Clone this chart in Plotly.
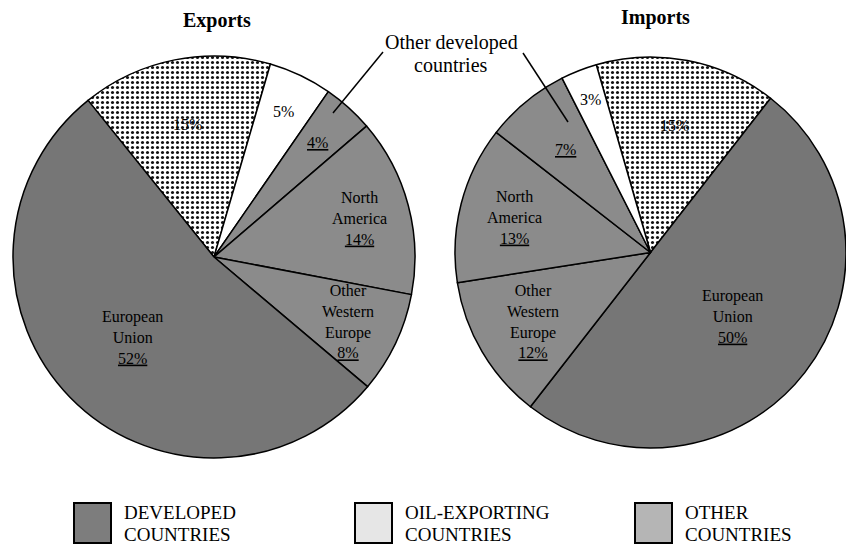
import math
import plotly.graph_objects as go

W, H = 846, 546

# ---- data ----
exp_labels = ["Other countries", "Oil-exporting countries", "Other developed countries",
              "North America", "Other Western Europe", "European Union"]
exp_values = [15, 5, 4, 14, 8, 52]
exp_text = ["15%", "5%", "<u>4%</u>", "North<br>America<br><u>14%</u>",
            "Other<br>Western<br>Europe<br><u>8%</u>", "European<br>Union<br><u>52%</u>"]
exp_group = ["other", "oil", "dev", "dev", "dev", "eu"]

imp_labels = ["Other countries", "European Union", "Other Western Europe",
              "North America", "Other developed countries", "Oil-exporting countries"]
imp_values = [15, 50, 12, 13, 7, 3]
imp_text = ["15%", "European<br>Union<br><u>50%</u>", "Other<br>Western<br>Europe<br><u>12%</u>",
            "North<br>America<br><u>13%</u>", "<u>7%</u>", "3%"]
imp_group = ["other", "eu", "dev", "dev", "dev", "oil"]

legend_line1 = ["DEVELOPED", "OIL-EXPORTING", "OTHER"]
legend_line2 = ["COUNTRIES", "COUNTRIES", "COUNTRIES"]
callout_lines = ["Other developed", "countries"]

# ---- style ----
FONT = "Liberation Serif"
fill = {"dev": "#8b8b8b", "eu": "#767676", "oil": "#ffffff", "other": "#ffffff"}
exp_rot, imp_rot = -38.8, -16.1
exp_lblr = [0.67, 0.80, 0.77, 0.75, 0.74, 0.57]
imp_lblr = [0.66, 0.53, 0.70, 0.72, 0.68, 0.84]

exp_dom_px = (13, 415, 56, 458)     # x0, x1, y0, y1 in pixels (top-down)
imp_dom_px = (455, 846, 57, 448)


def dom(px):
    x0, x1, y0, y1 = px
    return dict(x=[x0 / W, x1 / W], y=[1 - y1 / H, 1 - y0 / H])


def pie(values, labels, groups, rot, px):
    colors = [fill[g] for g in groups]
    shapes = ["." if g == "other" else "" for g in groups]
    return go.Pie(
        values=values, labels=labels, sort=False, direction="clockwise",
        rotation=rot, domain=dom(px), textinfo="none", hoverinfo="label+percent",
        showlegend=False,
        marker=dict(colors=colors, line=dict(color="black", width=1.5),
                    pattern=dict(shape=shapes, fgcolor="#111111", bgcolor=colors,
                                 size=5, solidity=0.3)),
    )


def txt(x, y, text, size, xanchor="center", align="center"):
    return dict(x=x / W, y=1 - y / H, xref="paper", yref="paper", text=text,
                showarrow=False, xanchor=xanchor, yanchor="middle", align=align,
                font=dict(family=FONT, size=size, color="black"))


def label_annotations(values, texts, rot, px, fracs):
    x0, x1, y0, y1 = px
    r = min(x1 - x0, y1 - y0) / 2
    cx, cy = (x0 + x1) / 2, (y0 + y1) / 2
    tot = sum(values)
    ang = rot
    out = []
    for v, t, f in zip(values, texts, fracs):
        span = 360 * v / tot
        mid = math.radians(ang + span / 2)
        ang += span
        out.append(txt(cx + f * r * math.sin(mid), cy - f * r * math.cos(mid), t, 16))
    return out


fig = go.Figure()
fig.add_trace(pie(exp_values, exp_labels, exp_group, exp_rot, exp_dom_px))
fig.add_trace(pie(imp_values, imp_labels, imp_group, imp_rot, imp_dom_px))

ann = []
ann += label_annotations(exp_values, exp_text, exp_rot, exp_dom_px, exp_lblr)
ann += label_annotations(imp_values, imp_text, imp_rot, imp_dom_px, imp_lblr)

# titles
ann.append(txt(217, 21, "<b>Exports</b>", 20))
ann.append(txt(655, 18, "<b>Imports</b>", 20))
ann.append(txt(451, 43, callout_lines[0], 20))
ann.append(txt(451, 65, callout_lines[1], 20))

shapes = [
    dict(type="line", xref="paper", yref="paper", x0=383 / W, y0=1 - 52 / H,
         x1=333 / W, y1=1 - 113 / H, line=dict(color="black", width=1.5)),
    dict(type="line", xref="paper", yref="paper", x0=523 / W, y0=1 - 53 / H,
         x1=568 / W, y1=1 - 122 / H, line=dict(color="black", width=1.5)),
]

# legend (boxes + text)
leg_x = [74, 355, 635]
leg_fill = ["#7d7d7d", "#e6e6e6", "#b5b5b5"]
for lx, l1, l2, fc in zip(leg_x, legend_line1, legend_line2, leg_fill):
    shapes.append(dict(type="rect", xref="paper", yref="paper",
                       x0=lx / W, x1=(lx + 37) / W, y0=1 - 543 / H, y1=1 - 503 / H,
                       fillcolor=fc, line=dict(color="black", width=2)))
    ann.append(txt(lx + 48, 512, l1, 19, xanchor="left", align="left"))
    ann.append(txt(lx + 48, 534, l2, 19, xanchor="left", align="left"))

fig.update_layout(
    width=W, height=H, margin=dict(l=0, r=0, t=0, b=0),
    paper_bgcolor="white", plot_bgcolor="white",
    annotations=ann, shapes=shapes,
)

fig.write_html("out.html", config={"displayModeBar": False},
               post_script="document.body.style.margin='0';")
